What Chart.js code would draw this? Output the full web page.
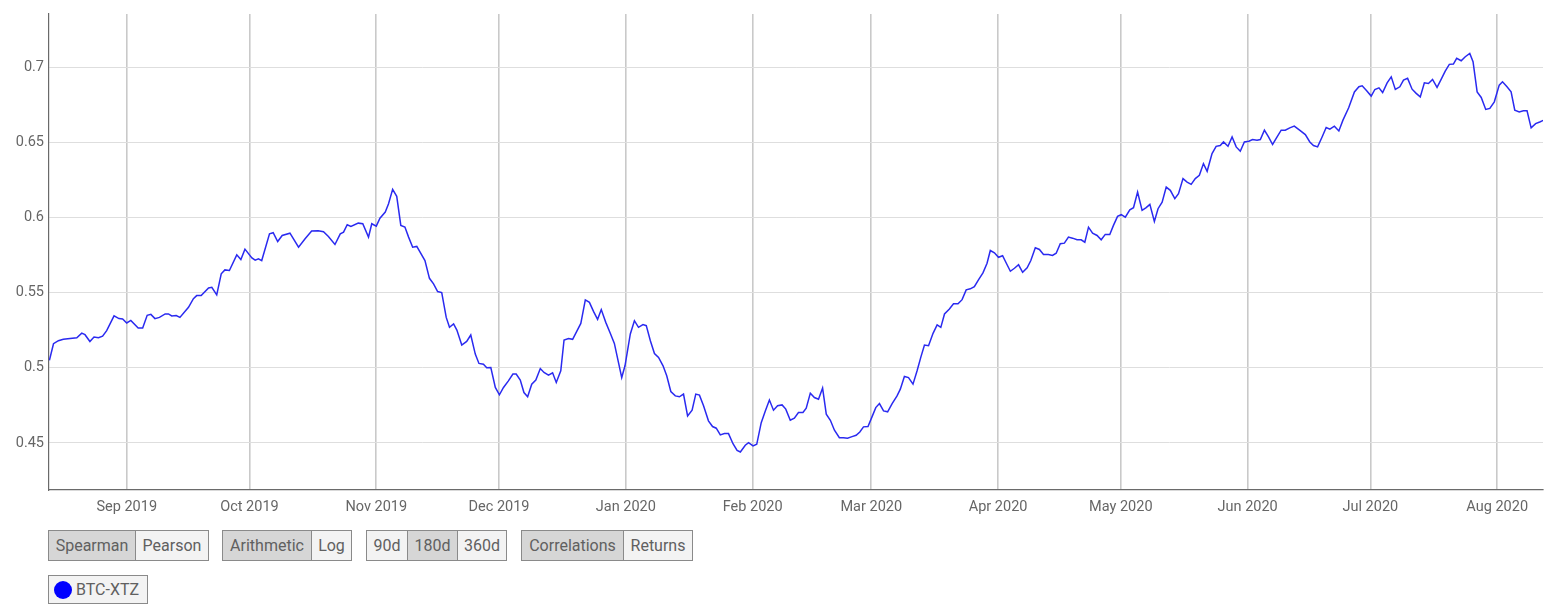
<!DOCTYPE html>
<html>
<head>
<meta charset="utf-8">
<script src="https://cdn.jsdelivr.net/npm/chart.js@4.4.1/dist/chart.umd.min.js"></script>
<style>
    body { margin: 0; background: #fff; font-family: Roboto, sans-serif; }
    #wrap { position: relative; width: 1551px; height: 520px; }
    .row { display: flex; margin-left: 48px; }
    .grp { display: flex; border: 1px solid #8a8a8a; }
    .btn {
        height: 29px; line-height: 29px; text-align: center; color: #606060;
        font-size: 16px; background: #f3f3f3; box-sizing: border-box;
    }
    .btn + .btn { border-left: 1px solid #8a8a8a; }
    .btn.on { background: #d6d6d6; }
    #legend { margin-top: 14px; width: 100px; height: 29px; border: 1px solid #8a8a8a; background: #f3f3f3;
        display: flex; align-items: center; color: #606060; font-size: 16px; box-sizing: border-box; }
    #legend .dot { width: 18px; height: 18px; border-radius: 50%; background: #0000ff; margin: 0 4px 0 5px; }
</style>
</head>
<body>
<div id="wrap"><canvas id="myChart" width="1551" height="520"></canvas></div>
<div class="row" style="margin-top:10px">
    <div class="grp" style="margin-right:13px"><div class="btn on" style="width:86px">Spearman</div><div class="btn" style="width:73px">Pearson</div></div>
    <div class="grp" style="margin-right:14px"><div class="btn on" style="width:88px">Arithmetic</div><div class="btn" style="width:40px">Log</div></div>
    <div class="grp" style="margin-right:14px"><div class="btn" style="width:40px">90d</div><div class="btn on" style="width:50px">180d</div><div class="btn" style="width:49px">360d</div></div>
    <div class="grp"><div class="btn on" style="width:101px">Correlations</div><div class="btn" style="width:69px">Returns</div></div>
</div>
<div class="row"><div id="legend"><span class="dot"></span>BTC-XTZ</div></div>

<script>
// dias contados desde 13 ago 2019
var days = [
    0.1, 1.1, 2.3, 3.5, 6.8, 8.0, 8.8, 10.0, 11.0, 12.1, 13.1, 14.1, 15.9, 17.1, 18.0, 19.0, 20.0, 21.8, 22.9, 24.0,
    24.9, 25.9, 27.0, 28.4, 29.2, 30.0, 31.1, 32.0, 34.1, 35.3, 36.1, 37.2, 39.0, 39.8, 41.0, 42.1, 43.0, 44.1, 45.9, 46.9,
    47.9, 49.6, 50.4, 51.2, 52.0, 53.9, 54.8, 55.9, 57.0, 58.9, 61.0, 62.6, 64.2, 65.8, 67.1, 68.3, 69.9, 71.2, 72.0, 72.9,
    73.8, 75.6, 76.7, 78.1, 78.9, 80.0, 80.9, 82.2, 83.0, 84.0, 85.0, 86.0, 87.0, 87.9, 88.9, 89.9, 91.9, 93.0, 94.0, 95.0,
    96.0, 97.1, 97.9, 98.9, 99.7, 100.9, 102.1, 103.1, 104.2, 105.1, 106.2, 107.0, 108.0, 109.1, 110.1, 111.1, 112.3, 113.4, 114.2, 115.2,
    116.1, 117.0, 118.0, 119.0, 120.1, 121.0, 122.1, 123.1, 124.0, 125.1, 125.9, 127.0, 128.0, 129.0, 130.0, 131.1, 132.1, 133.1, 134.1, 135.0,
    136.1, 137.2, 138.2, 139.2, 140.0, 140.8, 142.1, 143.1, 144.1, 145.2, 146.0, 147.0, 148.0, 149.0, 150.1, 151.0, 152.0, 153.1, 154.1, 155.1,
    156.1, 157.2, 158.1, 159.0, 160.0, 161.2, 162.2, 163.1, 164.1, 165.1, 166.1, 167.2, 168.2, 169.0, 170.2, 171.0, 172.1, 173.0, 174.1, 175.1,
    176.1, 177.1, 178.1, 179.2, 180.1, 181.2, 182.2, 183.2, 184.3, 185.1, 186.1, 187.1, 188.1, 189.1, 190.0, 191.0, 192.0, 193.2, 194.2, 195.2,
    196.3, 197.3, 198.2, 199.1, 200.2, 201.2, 202.1, 203.0, 204.0, 205.0, 206.1, 207.3, 208.1, 209.1, 210.1, 211.2, 212.2, 213.1, 214.0, 215.0,
    216.1, 217.1, 218.0, 218.9, 220.1, 221.1, 222.2, 223.2, 224.2, 225.2, 226.2, 227.2, 228.3, 229.3, 230.1, 231.1, 232.1, 233.1, 234.2, 235.0,
    236.0, 237.0, 238.0, 239.1, 240.0, 241.1, 242.1, 243.1, 244.3, 245.3, 246.2, 247.2, 248.2, 249.2, 250.2, 251.3, 252.3, 253.2, 254.1, 255.1,
    256.2, 257.2, 258.2, 259.3, 260.2, 261.2, 262.1, 263.1, 264.2, 265.1, 266.1, 267.2, 268.2, 269.1, 270.2, 271.1, 272.1, 273.1, 274.1, 275.2,
    276.1, 277.2, 278.2, 279.2, 280.2, 281.2, 282.2, 283.1, 284.3, 285.3, 286.3, 287.1, 288.2, 289.2, 290.2, 291.2, 292.2, 293.3, 294.2, 295.3,
    296.1, 297.1, 298.1, 299.1, 300.2, 301.2, 302.2, 303.3, 304.4, 305.7, 307.1, 308.2, 309.1, 310.1, 311.2, 312.2, 313.1, 314.2, 315.3, 316.3,
    317.7, 319.1, 320.2, 321.0, 322.1, 323.2, 324.1, 325.1, 326.0, 327.1, 328.1, 329.1, 330.2, 331.1, 332.1, 333.2, 334.2, 335.2, 336.2, 337.2,
    338.2, 339.3, 340.3, 341.3, 342.3, 343.3, 344.1, 345.2, 346.2, 347.3, 348.1, 349.1, 350.1, 351.2, 352.2, 353.3, 354.5, 355.3, 356.4, 357.4,
    358.3, 359.4, 360.4, 361.3, 362.3, 363.4, 364.4, 365.4
];
var corr = [
    0.505, 0.516, 0.518, 0.519, 0.520, 0.523, 0.522, 0.5175, 0.5205, 0.520, 0.521, 0.5247, 0.5345, 0.5327, 0.5325, 0.5298, 0.5315, 0.5265, 0.5265, 0.5349,
    0.5355, 0.5327, 0.5335, 0.5358, 0.5358, 0.5345, 0.5347, 0.5335, 0.5402, 0.546, 0.548, 0.548, 0.5531, 0.5535, 0.5485, 0.5625, 0.5651, 0.5647, 0.5751, 0.572,
    0.5789, 0.5731, 0.5716, 0.5725, 0.5713, 0.5891, 0.5898, 0.584, 0.588, 0.5895, 0.5802, 0.5858, 0.5909, 0.5911, 0.5905, 0.5873, 0.582, 0.5891, 0.5902, 0.5951,
    0.594, 0.5962, 0.5958, 0.5869, 0.5958, 0.5942, 0.5995, 0.6036, 0.6091, 0.6187, 0.614, 0.5947, 0.5936, 0.5869, 0.5802, 0.5807, 0.5713, 0.5595, 0.5558, 0.5507,
    0.55, 0.5335, 0.5269, 0.5291, 0.5251, 0.5151, 0.5175, 0.5218, 0.5091, 0.5029, 0.5024, 0.5, 0.5002, 0.4869, 0.482, 0.4869, 0.4913, 0.4958, 0.4958, 0.4918,
    0.4835, 0.4807, 0.4891, 0.4918, 0.4995, 0.4969, 0.4951, 0.4967, 0.4902, 0.498, 0.5185, 0.5195, 0.5189, 0.5242, 0.5295, 0.5451, 0.5435, 0.5375, 0.5322, 0.5387,
    0.5302, 0.5229, 0.5162, 0.5036, 0.4935, 0.5013, 0.5225, 0.5313, 0.5269, 0.5287, 0.528, 0.518, 0.5095, 0.5069, 0.5013, 0.4947, 0.4842, 0.4813, 0.4807, 0.4825,
    0.468, 0.4718, 0.4825, 0.4818, 0.4747, 0.4647, 0.4609, 0.4598, 0.4553, 0.4562, 0.4562, 0.4495, 0.4451, 0.444, 0.4485, 0.4502, 0.448, 0.4491, 0.4635, 0.4713,
    0.4785, 0.4718, 0.4747, 0.4753, 0.4725, 0.4651, 0.4665, 0.4702, 0.4702, 0.4731, 0.4831, 0.4802, 0.4791, 0.4865, 0.4691, 0.4651, 0.4585, 0.4535, 0.4535, 0.4531,
    0.4542, 0.4551, 0.4573, 0.4607, 0.4609, 0.4675, 0.4735, 0.4762, 0.4713, 0.4707, 0.4762, 0.4813, 0.4858, 0.4942, 0.4935, 0.4891, 0.498, 0.5069, 0.5151, 0.5147,
    0.5229, 0.5285, 0.5269, 0.5358, 0.5391, 0.5425, 0.5425, 0.5453, 0.5518, 0.5525, 0.554, 0.5585, 0.5631, 0.5695, 0.578, 0.5765, 0.5735, 0.5745, 0.5685, 0.5642,
    0.5662, 0.5685, 0.5635, 0.5665, 0.5713, 0.5798, 0.5787, 0.5753, 0.5753, 0.5747, 0.5762, 0.5825, 0.5829, 0.5869, 0.5862, 0.5851, 0.5851, 0.5835, 0.5935, 0.5895,
    0.588, 0.5851, 0.5887, 0.5887, 0.5947, 0.6007, 0.6018, 0.6002, 0.6051, 0.6065, 0.6169, 0.6047, 0.6065, 0.6087, 0.5973, 0.6058, 0.6102, 0.6202, 0.618, 0.6125,
    0.6158, 0.6258, 0.6235, 0.622, 0.6258, 0.628, 0.6358, 0.6307, 0.6425, 0.6473, 0.6478, 0.6502, 0.6473, 0.6535, 0.6469, 0.644, 0.6502, 0.6507, 0.6518, 0.6513,
    0.6518, 0.658, 0.6535, 0.6485, 0.6535, 0.658, 0.658, 0.6596, 0.6607, 0.658, 0.6551, 0.6502, 0.6478, 0.6469, 0.6535, 0.6598, 0.6587, 0.6607, 0.6575, 0.6647,
    0.6729, 0.6835, 0.6869, 0.6875, 0.6842, 0.6807, 0.6851, 0.6862, 0.6831, 0.6895, 0.6935, 0.6851, 0.6869, 0.6913, 0.6925, 0.6853, 0.6825, 0.6802, 0.6895, 0.6891,
    0.6918, 0.6865, 0.6918, 0.6973, 0.7018, 0.702, 0.7058, 0.7042, 0.7069, 0.7091, 0.7036, 0.6835, 0.6798, 0.6718, 0.6725, 0.6769, 0.688, 0.6902, 0.6869, 0.6835,
    0.6713, 0.6702, 0.6709, 0.6709, 0.6596, 0.6624, 0.6635, 0.6647
];
var monthDays = [19, 49, 80, 110, 141, 172, 201, 232, 262, 293, 323, 354];
var monthLabels = ['Sep 2019', 'Oct 2019', 'Nov 2019', 'Dec 2019', 'Jan 2020', 'Feb 2020',
    'Mar 2020', 'Apr 2020', 'May 2020', 'Jun 2020', 'Jul 2020', 'Aug 2020'];
var yTicks = [0.45, 0.5, 0.55, 0.6, 0.65, 0.7];
var yLabels = ['0.45', '0.5', '0.55', '0.6', '0.65', '0.7'];

var puntos = [];
days.forEach(function (d, i) {
    puntos.push({ x: d, y: corr[i] });
});

var ctx = document.getElementById('myChart');
var myChart = new Chart(ctx, {
    type: 'line',
    data: {
        datasets: [{
            label: 'BTC-XTZ',
            data: puntos,
            borderColor: '#2a2af0',
            borderWidth: 1.5,
            pointRadius: 0,
            tension: 0,
            fill: false
        }]
    },
    options: {
        responsive: false,
        animation: false,
        events: [],
        layout: { padding: { top: 14, right: 8, left: 0, bottom: 0 } },
        plugins: {
            legend: { display: false },
            tooltip: { enabled: false }
        },
        scales: {
            x: {
                type: 'linear',
                min: 0,
                max: 365.2,
                afterBuildTicks: function (scale) {
                    scale.ticks = monthDays.map(function (v) { return { value: v }; });
                },
                afterFit: function (scale) { scale.height = 30; },
                ticks: {
                    color: '#666',
                    font: { family: 'Roboto', size: 14.5 },
                    padding: 9,
                    maxRotation: 0,
                    autoSkip: false,
                    callback: function (value, index) { return monthLabels[index]; }
                },
                grid: { color: '#c9c9c9', lineWidth: 1.6, drawTicks: false },
                border: { color: '#6a6a6a', width: 1.2 }
            },
            y: {
                min: 0.4187,
                max: 0.7353,
                afterBuildTicks: function (scale) {
                    scale.ticks = yTicks.map(function (v) { return { value: v }; });
                },
                afterFit: function (scale) { scale.width = 49; },
                ticks: {
                    color: '#666',
                    font: { family: 'Roboto', size: 14.5 },
                    padding: 5,
                    callback: function (value, index) { return yLabels[index]; }
                },
                grid: { color: '#dedede', lineWidth: 1, drawTicks: false },
                border: { color: '#6a6a6a', width: 1.2 }
            }
        }
    }
});
</script>
</body>
</html>
